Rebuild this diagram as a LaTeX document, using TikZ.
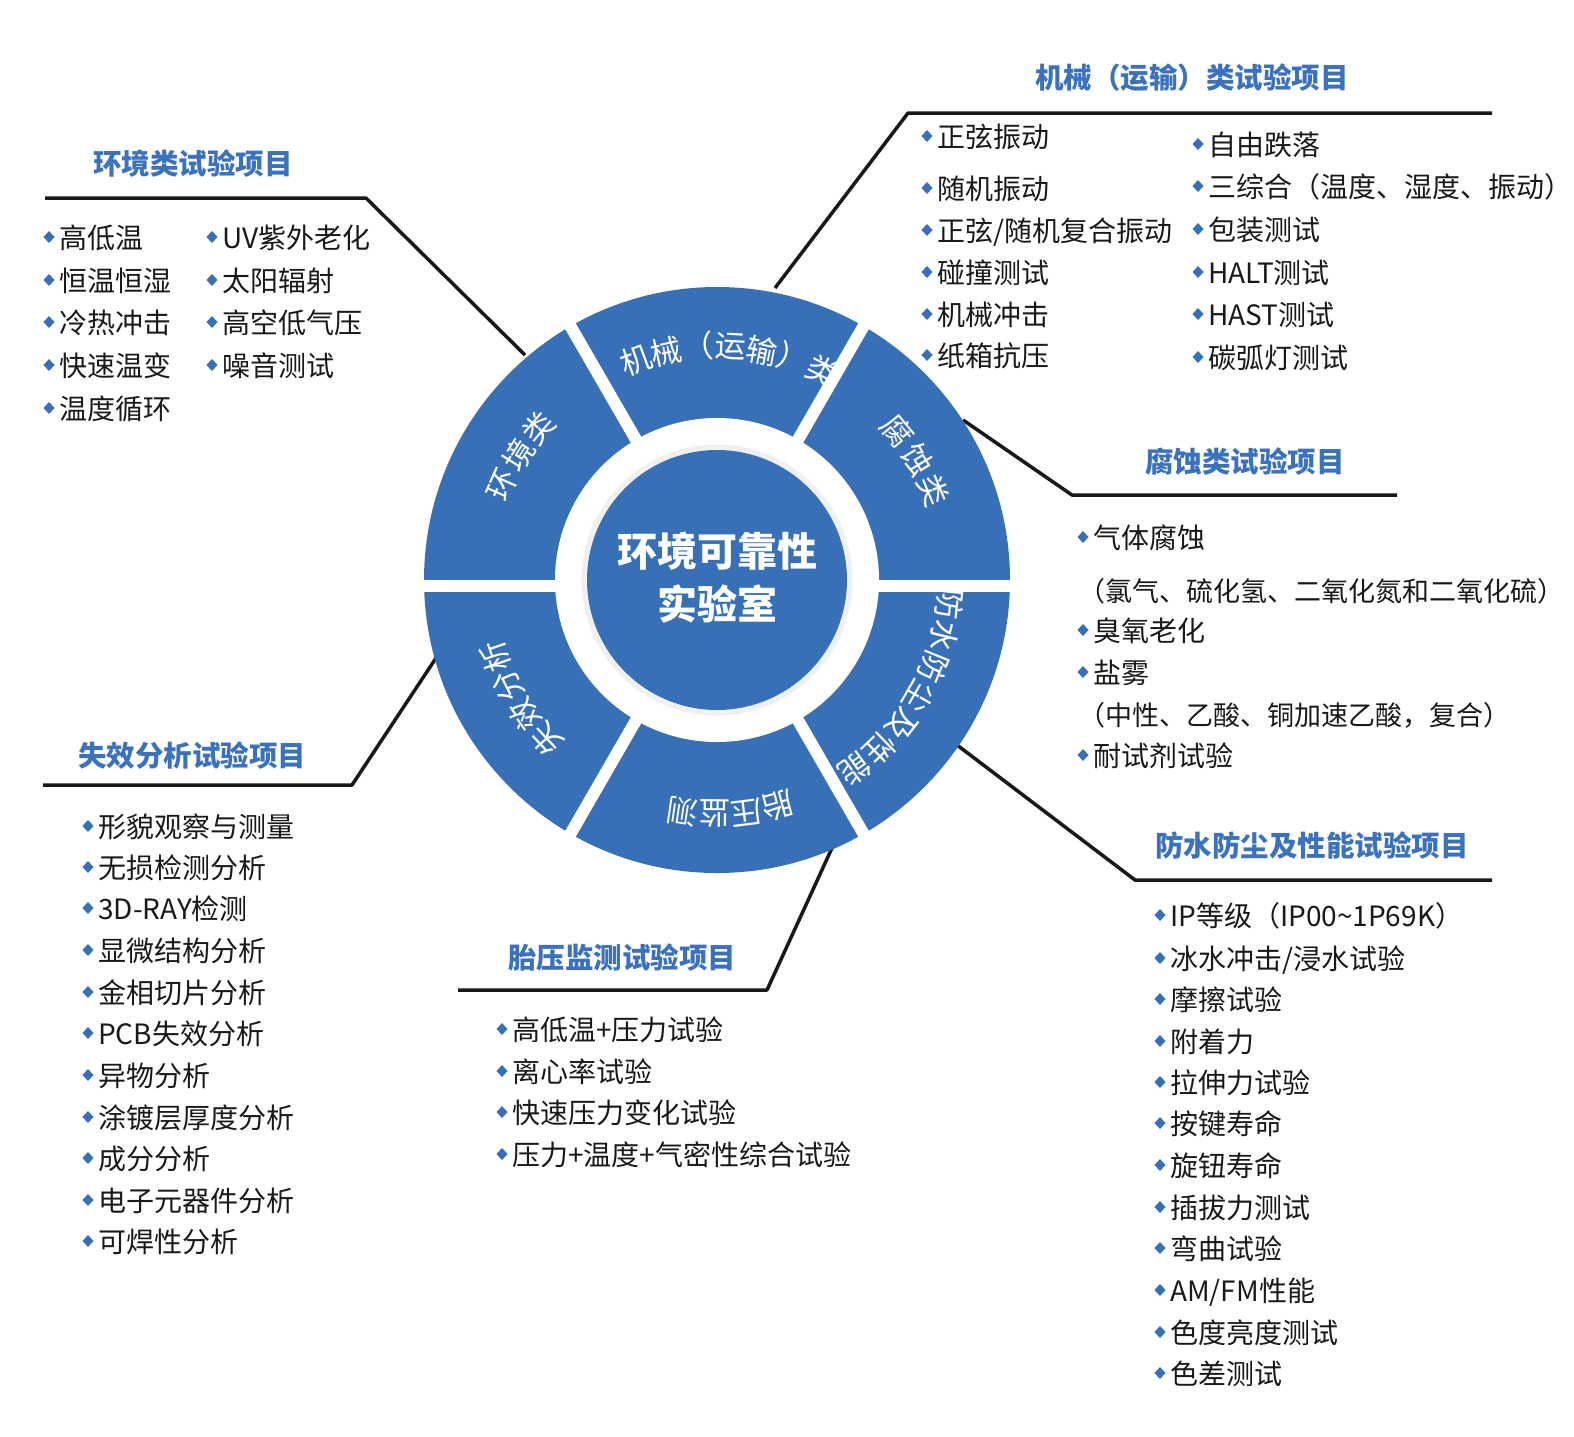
\documentclass[tikz,border=0pt]{standalone}
\usepackage{fontspec}
\setmainfont{Noto Sans CJK SC}
\definecolor{ringblue}{RGB}{56,112,184}
\definecolor{titleblue}{RGB}{58,114,190}
\tikzset{
  itemtxt/.style={anchor=west, font=\fontsize{28}{30}\selectfont, text=black!90, inner sep=0pt, text height=24.6pt, text depth=3.4pt},
  parentxt/.style={itemtxt, font=\fontsize{27}{30}\selectfont},
  ttl/.style={font=\bfseries\fontsize{28.5}{30}\selectfont, text=titleblue, inner sep=0pt},
  leader/.style={line width=3.5pt, black!90, line join=round},
  ringlbl/.style={font=\fontsize{31}{32}\selectfont, text=white, inner sep=0pt},
  divider/.style={white, line width=12pt},
}
\newcommand\bul[3]{%
  \fill[ringblue] ({#1-15.5},{#2-1}) -- ({#1-10},{#2-7}) -- ({#1-4.5},{#2-1}) -- ({#1-10},{#2+5}) -- cycle;
  \node[itemtxt] at (#1,#2) {#3};}
\newcommand\arclbl[3]{%
  \foreach \ch [count=\i from 0] in {#3} {%
    \pgfmathsetmacro\ang{#1-#2*\i}%
    \node[ringlbl, rotate=\ang-90] at ({717+234*cos(\ang)},{580-234*sin(\ang)}) {\ch};
  }}
\begin{document}
\begin{tikzpicture}[x=1pt,y=-1pt]
\useasboundingbox (0,0) rectangle (1574,1436);
\fill[white] (0,0) rectangle (1574,1436);

% leader lines
\coordinate (envA) at (525,355); \coordinate (envB) at (366,198); \coordinate (envC) at (45,198);
\coordinate (mecA) at (775,288); \coordinate (mecB) at (908,113); \coordinate (mecC) at (1492,113);
\coordinate (corA) at (963,420); \coordinate (corB) at (1072,495); \coordinate (corC) at (1397,495);
\coordinate (watA) at (957,745); \coordinate (watB) at (1135,880); \coordinate (watC) at (1492,880);
\coordinate (tirA) at (832,848); \coordinate (tirB) at (767,990); \coordinate (tirC) at (458,990);
\coordinate (faiA) at (438,655); \coordinate (faiB) at (352,785); \coordinate (faiC) at (43,785);
\draw[leader] (envA) -- (envB) -- (envC);
\draw[leader] (mecA) -- (mecB) -- (mecC);
\draw[leader] (corA) -- (corB) -- (corC);
\draw[leader] (watA) -- (watB) -- (watC);
\draw[leader] (tirA) -- (tirB) -- (tirC);
\draw[leader] (faiA) -- (faiB) -- (faiC);

% ring
\coordinate (ctr) at (717,580);
\fill[ringblue] (ctr) circle (293pt);
\fill[white] (ctr) circle (162pt);
\draw[black!6, line width=5pt] (ctr) circle (133pt);
\fill[ringblue] (ctr) circle (130pt);
\foreach \a in {60,120,240,300}
  \draw[divider] ({717+150*cos(\a)},{580-150*sin(\a)}) -- ({717+305*cos(\a)},{580-305*sin(\a)});
\draw[divider] (415,586) -- (560,586);
\draw[divider] (874,586) -- (1020,586);

\node[font=\bfseries\fontsize{40}{53}\selectfont, text=white, align=center, inner sep=0pt] (core) at (717,578) {环境可靠性\\实验室};

\arclbl{110.3}{7.85}{机,械,（,运,输,）,类}
\arclbl{156}{8.2}{环,境,类}
\arclbl{39.5}{8.5}{腐,蚀,类}
\arclbl{-6}{8}{防,水,防,尘,及,性,能}
\arclbl{285}{7.8}{胎,压,监,测}
\arclbl{223}{8}{失,效,分,析}

% titles
\node[ttl] (tenv) at (193,164) {环境类试验项目};
\node[ttl] (tmec) at (1192,78) {机械（运输）类试验项目};
\node[ttl] (tcor) at (1245,462) {腐蚀类试验项目};
\node[ttl] (twat) at (1312,846) {防水防尘及性能试验项目};
\node[ttl] (ttir) at (622,958) {胎压监测试验项目};
\node[ttl] (tfai) at (192,756) {失效分析试验项目};

% environment items
\bul{59}{238}{高低温}
\bul{59}{281}{恒温恒湿}
\bul{59}{323}{冷热冲击}
\bul{59}{366}{快速温变}
\bul{59}{409}{温度循环}
\bul{222}{238}{UV紫外老化}
\bul{222}{281}{太阳辐射}
\bul{222}{323}{高空低气压}
\bul{222}{366}{噪音测试}

% mechanical items
\bul{937}{137}{正弦振动}
\bul{937}{189}{随机振动}
\bul{937}{231}{正弦/随机复合振动}
\bul{937}{273}{碰撞测试}
\bul{937}{315}{机械冲击}
\bul{937}{356}{纸箱抗压}
\bul{1208}{145}{自由跌落}
\bul{1208}{187}{三综合（温度、湿度、振动）}
\bul{1208}{230}{包装测试}
\bul{1208}{273}{HALT测试}
\bul{1208}{315}{HAST测试}
\bul{1208}{358}{碳弧灯测试}

% corrosion items
\bul{1093}{538}{气体腐蚀}
\node[parentxt] (par1) at (1078,591) {（氯气、硫化氢、二氧化氮和二氧化硫）};
\bul{1093}{631}{臭氧老化}
\bul{1093}{673}{盐雾}
\node[parentxt] (par2) at (1078,715) {（中性、乙酸、铜加速乙酸，复合）};
\bul{1093}{756}{耐试剂试验}

% waterproof items
\bul{1170}{916}{IP等级（IP00\textasciitilde 1P69K）}
\bul{1170}{959}{冰水冲击/浸水试验}
\bul{1170}{1000}{摩擦试验}
\bul{1170}{1042}{附着力}
\bul{1170}{1083}{拉伸力试验}
\bul{1170}{1124}{按键寿命}
\bul{1170}{1166}{旋钮寿命}
\bul{1170}{1208}{插拔力测试}
\bul{1170}{1249}{弯曲试验}
\bul{1170}{1291}{AM/FM性能}
\bul{1170}{1333}{色度亮度测试}
\bul{1170}{1374}{色差测试}

% tire pressure items
\bul{512}{1030}{高低温+压力试验}
\bul{512}{1072}{离心率试验}
\bul{512}{1113}{快速压力变化试验}
\bul{512}{1155}{压力+温度+气密性综合试验}

% failure analysis items
\bul{98}{827}{形貌观察与测量}
\bul{98}{868}{无损检测分析}
\bul{98}{909}{3D-RAY检测}
\bul{98}{951}{显微结构分析}
\bul{98}{993}{金相切片分析}
\bul{98}{1034}{PCB失效分析}
\bul{98}{1076}{异物分析}
\bul{98}{1118}{涂镀层厚度分析}
\bul{98}{1159}{成分分析}
\bul{98}{1201}{电子元器件分析}
\bul{98}{1242}{可焊性分析}
\end{tikzpicture}
\end{document}
